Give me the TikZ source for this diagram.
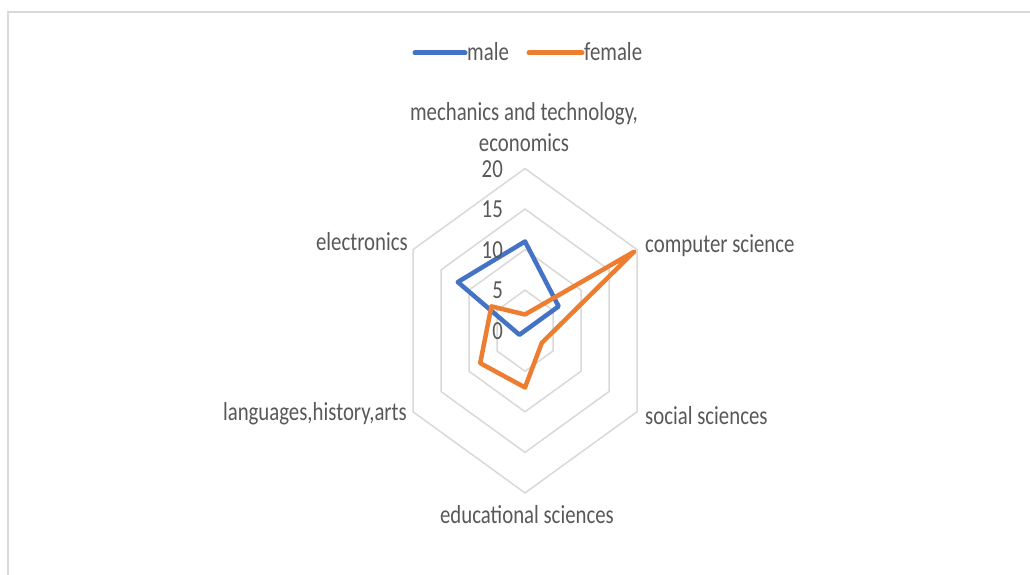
\documentclass[tikz,border=0pt]{standalone}
\usepackage{fontspec}
\setmainfont{Carlito}[FakeStretch=0.8]
\definecolor{mblue}{HTML}{4472C4}
\definecolor{forange}{HTML}{ED7D31}
\definecolor{txtgray}{HTML}{595959}
\definecolor{gridgray}{HTML}{D9D9D9}
\begin{document}
\begin{tikzpicture}[x=1pt,y=-1pt,
  lbl/.style={font=\fontsize{26}{31}\selectfont, text=txtgray, inner sep=0pt},
  gridline/.style={draw=gridgray, line width=1.5pt},
  series/.style={line width=4.5pt, line join=round, line cap=round}]
\useasboundingbox (0,0) rectangle (1030,575);
\fill[white] (0,0) rectangle (1030,575);
\draw[gridline] (8,576) -- (8,12) -- (1031,12);
\coordinate (O) at (525,330.7);
\begin{scope}[shift={(O)}, x=6.466pt, y=8.11pt]
  \foreach \r in {5,10,15,20}
    \draw[gridline] (90:\r) -- (30:\r) -- (-30:\r) -- (-90:\r) -- (-150:\r) -- (150:\r) -- cycle;
  \coordinate (m1) at (90:11);
  \coordinate (m2) at (30:6);
  \coordinate (m3) at (-30:0);
  \coordinate (m4) at (-90:0);
  \coordinate (m5) at (-150:1);
  \coordinate (m6) at (150:12);
  \coordinate (f1) at (90:2);
  \coordinate (f2) at (30:19.5);
  \coordinate (f3) at (-30:3);
  \coordinate (f4) at (-90:7);
  \coordinate (f5) at (-150:8);
  \coordinate (f6) at (150:6);
\end{scope}
\draw[series, mblue] (m1) -- (m2) -- (m3) -- (m4) -- (m5) -- (m6) -- cycle;
\draw[series, forange] (f1) -- (f2) -- (f3) -- (f4) -- (f5) -- (f6) -- cycle;
% value axis labels
\node[lbl, anchor=east] (v0) at (503,331) {0};
\node[lbl, anchor=east] (v5) at (503,290.5) {5};
\node[lbl, anchor=east] (v10) at (503,250) {10};
\node[lbl, anchor=east] (v15) at (503,209.5) {15};
\node[lbl, anchor=east] (v20) at (503,169.5) {20};
% category labels
\node[lbl, anchor=mid] (mecha) at (524,118) {mechanics and technology,};
\node[lbl, anchor=mid] (mechb) at (524,149) {economics};
\node[lbl, anchor=mid west] (cs) at (645,250) {computer science};
\node[lbl, anchor=mid west] (ss) at (645,422) {social sciences};
\node[lbl, anchor=mid] (es) at (527,521) {educational sciences};
\node[lbl, anchor=mid east] (lha) at (407,418) {languages,history,arts};
\node[lbl, anchor=mid east] (el) at (408,248) {electronics};
% legend
\coordinate (lb1) at (415,53);
\coordinate (lb2) at (465,53);
\coordinate (lo1) at (529,53);
\coordinate (lo2) at (582,53);
\draw[series, mblue, line width=5pt] (lb1) -- (lb2);
\draw[series, forange, line width=5pt] (lo1) -- (lo2);
\node[lbl, anchor=mid west] (lm) at (467,58) {male};
\node[lbl, anchor=mid west] (lf) at (584,58) {female};
\end{tikzpicture}
\end{document}
